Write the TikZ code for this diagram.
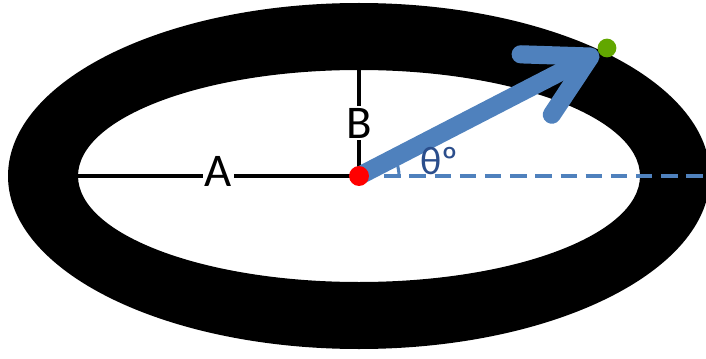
\documentclass[tikz,border=0pt]{standalone}
\usepackage{fontspec}
\setmainfont{Carlito}
\usetikzlibrary{arrows.meta}
\definecolor{blue}{HTML}{4F81BD}
\definecolor{navy}{HTML}{2B4E8C}
\definecolor{green}{HTML}{62A700}
\pgfdeclarelayer{back}
\pgfsetlayers{back,main}

\begin{document}
\begin{tikzpicture}[x=0.03cm,y=0.03cm,font=\fontsize{40}{46}\selectfont,
  dot/.style={circle,inner sep=0pt,minimum size=17pt}]
\useasboundingbox (0,0) rectangle (706,358);
\clip (0,0) rectangle (706,358);
\node[dot,fill=red] (c) at (359,182) {};
\node[dot,fill=green,minimum size=16pt] (p) at (607,310) {};
\coordinate (a) at (78,182);
\coordinate (b) at (359,288);
\coordinate (e) at (706,182);
\begin{pgfonlayer}{back}
\fill[even odd rule] (359,182) ellipse [x radius=351,y radius=173] (359,182) ellipse [x radius=281,y radius=106];
\draw[line width=2.6pt] (a)--(c.center) node[midway,fill=white,inner sep=1.5pt,yshift=4pt]{A};
\draw[line width=2.6pt] (b)--(c.center) node[midway,fill=white,inner sep=1.5pt]{B};
\draw[blue,line width=2.6pt,dash pattern=on 14pt off 7.5pt] (c.center)--(e);
\draw[blue,line width=2.6pt] ([shift={(0:40)}]c.center) arc[start angle=0,end angle=27,radius=40];
\draw[blue,line width=15.5pt,line cap=round,-{Straight Barb[length=52pt,width=58pt,round]}] (c.center)--(p);
\end{pgfonlayer}
\node[navy,anchor=base west,font=\fontsize{34}{40}\selectfont] (t) at (416,184) {θº};
\end{tikzpicture}
\end{document}
